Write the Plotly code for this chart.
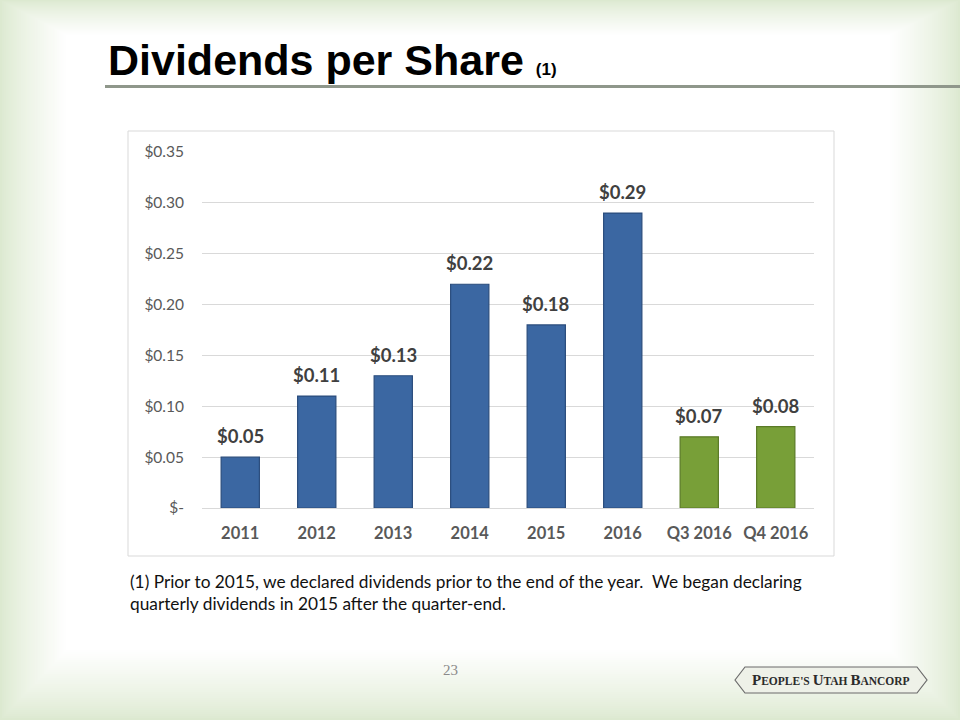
import plotly.graph_objects as go

categories = ["2011", "2012", "2013", "2014", "2015", "2016", "Q3 2016", "Q4 2016"]
dividends = [0.05, 0.11, 0.13, 0.22, 0.18, 0.29, 0.07, 0.08]
bar_colors = ["#3b67a2"] * 6 + ["#789f38"] * 2
line_colors = ["#2a4c7c"] * 6 + ["#5a7a26"] * 2
value_labels = ["$0.05", "$0.11", "$0.13", "$0.22", "$0.18", "$0.29", "$0.07", "$0.08"]
y_tickvals = [0, 0.05, 0.10, 0.15, 0.20, 0.25, 0.30, 0.35]
y_ticktext = ["$-", "$0.05", "$0.10", "$0.15", "$0.20", "$0.25", "$0.30", "$0.35"]

W, H = 960, 720
fig = go.Figure()
fig.add_trace(go.Bar(
    x=categories, y=dividends, width=0.5,
    marker=dict(color=bar_colors, line=dict(color=line_colors, width=1.2)),
    hoverinfo="skip",
))


def px(x):
    return x / W


def py(y):
    return 1 - y / H


shapes = []
# background vignette (light green edges -> white center)
N = 36
c0 = (220, 233, 208)
for i in range(N):
    t = (i / (N - 1)) ** 0.8
    col = tuple(int(round(c0[k] + (255 - c0[k]) * t)) for k in range(3))
    shapes.append(dict(type="rect", xref="paper", yref="paper", layer="below",
                       x0=(1.9 * i) / W, x1=1 - (2.0 * i) / W,
                       y0=(2.0 * i) / H, y1=1 - (1.0 * i) / H,
                       line=dict(width=0), fillcolor="rgb(%d,%d,%d)" % col))
# chart box
shapes.append(dict(type="rect", xref="paper", yref="paper", layer="below",
                   x0=px(128), x1=px(834), y0=py(556), y1=py(131),
                   line=dict(color="#d9d9d9", width=1), fillcolor="white"))
# title underline
shapes.append(dict(type="line", xref="paper", yref="paper",
                   x0=px(105), x1=1, y0=py(86.5), y1=py(86.5),
                   line=dict(color="#8f978b", width=3)))
# logo frame
lx0, lx1, ly0, ly1 = 735, 927, 667, 693
ly_mid = (ly0 + ly1) / 2
path = "M {},{} L {},{} L {},{} L {},{} L {},{} L {},{} Z".format(
    px(lx0), py(ly_mid), px(lx0 + 10), py(ly0), px(lx1 - 10), py(ly0),
    px(lx1), py(ly_mid), px(lx1 - 10), py(ly1), px(lx0 + 10), py(ly1))
shapes.append(dict(type="path", xref="paper", yref="paper", path=path,
                   line=dict(color="#6b6b6b", width=1.2), fillcolor="#eef1e8"))

annotations = []
for i, (v, lab) in enumerate(zip(dividends, value_labels)):
    annotations.append(dict(x=i, y=v, xref="x", yref="y", text="<b>%s</b>" % lab,
                            showarrow=False, yshift=21, xanchor="center",
                            font=dict(family="Lato, Open Sans, sans-serif", size=18.5, color="#404040")))
annotations.append(dict(x=px(106), y=py(86), xref="paper", yref="paper",
                        xanchor="left", yanchor="bottom", showarrow=False,
                        text="<b>Dividends per Share</b> <b><span style='font-size:17px'>(1)</span></b>",
                        font=dict(family="Liberation Sans Narrow, Arial Narrow, Liberation Sans, sans-serif",
                                  size=43, color="#000000")))
annotations.append(dict(x=px(128), y=py(569), xref="paper", yref="paper",
                        xanchor="left", yanchor="top", showarrow=False, align="left",
                        text="(1) Prior to 2015, we declared dividends prior to the end of the year.  We began declaring<br>quarterly dividends in 2015 after the quarter-end.",
                        font=dict(family="Lato, sans-serif", size=17.3, color="#111111")))
annotations.append(dict(x=px(450), y=py(680), xref="paper", yref="paper",
                        showarrow=False, text="23", xanchor="center",
                        font=dict(family="Liberation Serif, serif", size=15, color="#8a8a8a")))
annotations.append(dict(x=px(831), y=py(680), xref="paper", yref="paper",
                        showarrow=False, xanchor="center", yanchor="middle",
                        text="<b><span style='font-size:15px'>P</span>EOPLE'S <span style='font-size:15px'>U</span>TAH <span style='font-size:15px'>B</span>ANCORP</b>",
                        font=dict(family="Liberation Serif, serif", size=11.5, color="#2b2b2b")))

fig.update_layout(
    width=W, height=H, autosize=False,
    margin=dict(l=0, r=0, t=0, b=0, pad=0, autoexpand=False),
    paper_bgcolor="white", plot_bgcolor="rgba(0,0,0,0)",
    showlegend=False, bargap=0.5,
    shapes=shapes, annotations=annotations,
    xaxis=dict(type="category", categoryorder="array", categoryarray=categories,
               range=[-0.5, len(categories) - 0.5],
               domain=[px(202), px(814)], showgrid=False, showline=False, ticks="",
               automargin=False,
               tickfont=dict(family="Lato, Open Sans, sans-serif", size=16.5, color="#595959", weight="bold"),
               ticklabelstandoff=13, fixedrange=True),
    yaxis=dict(domain=[py(508), py(152)], range=[0, 0.35], automargin=False,
               tickvals=y_tickvals, ticktext=y_ticktext,
               showgrid=True, gridcolor="#d9d9d9", gridwidth=1,
               zeroline=True, zerolinecolor="#d9d9d9", zerolinewidth=1,
               showline=False, ticks="",
               tickfont=dict(family="Lato, Open Sans, sans-serif", size=15.5, color="#595959"),
               ticklabelstandoff=17, fixedrange=True),
)
fig.write_html("out.html", config={"displayModeBar": False},
               post_script="document.body.style.margin='0';document.body.style.overflow='hidden';")
